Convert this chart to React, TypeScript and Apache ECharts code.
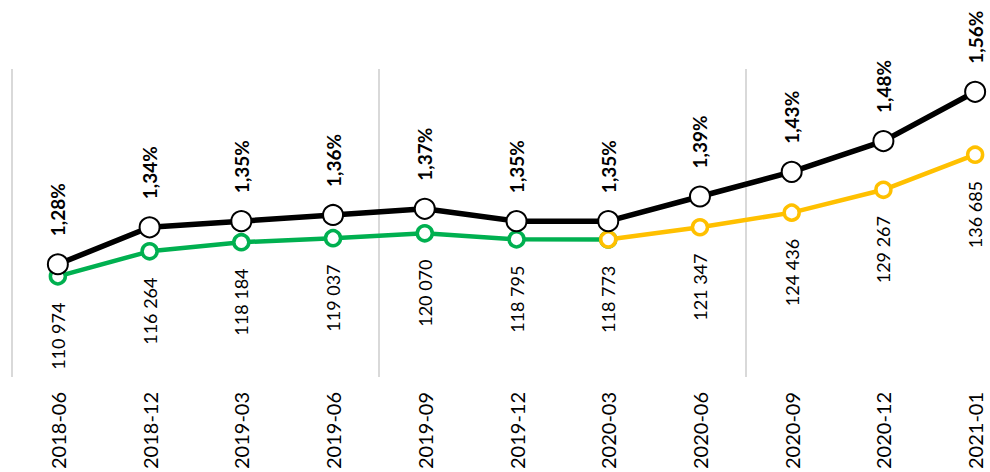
import React, { useEffect, useRef } from "react";
import * as echarts from "echarts";

const categories = [
  "2018-06", "2018-12", "2019-03", "2019-06", "2019-09", "2019-12",
  "2020-03", "2020-06", "2020-09", "2020-12", "2021-01",
];
const shareValues = [1.28, 1.34, 1.35, 1.36, 1.37, 1.35, 1.35, 1.39, 1.43, 1.48, 1.56];
const countValues = [110974, 116264, 118184, 119037, 120070, 118795, 118773, 121347, 124436, 129267, 136685];
const actualCount = 7; // first 7 points green, rest yellow (forecast)

const FONT = "Lato, 'Noto Sans', sans-serif";

const fmtPct = (v: number) => v.toFixed(2).replace(".", ",") + "%";
const fmtNum = (v: number) => String(Math.round(v)).replace(/\B(?=(\d{3})+(?!\d))/g, " ");

export default function App() {
  const ref = useRef<HTMLDivElement>(null);
  useEffect(() => {
    if (!ref.current) return;
    const chart = echarts.init(ref.current, null, { renderer: "svg" });
    const greenData = countValues.map((v, i) => (i < actualCount ? v : "-"));
    const yellowData = countValues.map((v, i) => (i >= actualCount - 1 ? v : "-"));
    const valueLabel = (skipIdx: number) => ({
      show: true,
      position: "bottom",
      distance: 17,
      rotate: 90,
      align: "right",
      verticalAlign: "middle",
      color: "#000",
      fontFamily: FONT,
      fontSize: 18,
      formatter: (p: any) => (p.dataIndex === skipIdx ? "" : fmtNum(p.value)),
    });
    chart.setOption({
      animation: false,
      backgroundColor: "#fff",
      grid: { left: 12, right: 0, top: 69, bottom: 94, containLabel: false },
      xAxis: [
        {
          type: "category",
          data: categories,
          boundaryGap: true,
          axisLine: { show: false },
          axisTick: { show: false },
          axisLabel: {
            rotate: 90,
            margin: 15,
            color: "#000",
            fontFamily: FONT,
            fontSize: 20,
            interval: 0,
          },
          splitLine: { show: false },
        },
        {
          type: "value",
          position: "bottom",
          min: -0.5,
          max: 10.5,
          interval: 4,
          axisLine: { show: false },
          axisTick: { show: false },
          axisLabel: { show: false },
          splitLine: { show: true, lineStyle: { color: "#d9d9d9", width: 2 } },
        },
      ],
      yAxis: [
        { type: "value", show: false, min: 1.097, max: 1.597, splitLine: { show: false } },
        { type: "value", show: false, min: 89700, max: 154800, splitLine: { show: false } },
      ],
      series: [
        {
          type: "line",
          yAxisIndex: 1,
          data: greenData,
          symbol: "circle",
          symbolSize: 15,
          lineStyle: { color: "#00b050", width: 4.5 },
          itemStyle: { color: "#fff", borderColor: "#00b050", borderWidth: 3.5 },
          label: valueLabel(actualCount - 1),
          z: 2,
        },
        {
          type: "line",
          yAxisIndex: 1,
          data: yellowData,
          symbol: "circle",
          symbolSize: 15,
          lineStyle: { color: "#ffc000", width: 4.5 },
          itemStyle: { color: "#fff", borderColor: "#ffc000", borderWidth: 3.5 },
          label: valueLabel(-1),
          z: 3,
        },
        {
          type: "line",
          yAxisIndex: 0,
          data: shareValues,
          symbol: "circle",
          symbolSize: 20,
          lineStyle: { color: "#000", width: 5.5 },
          itemStyle: { color: "#fff", borderColor: "#000", borderWidth: 2 },
          label: {
            show: true,
            position: "top",
            distance: 17,
            rotate: 90,
            align: "left",
            verticalAlign: "middle",
            color: "#000",
            fontFamily: FONT,
            fontWeight: "bold",
            fontSize: 19,
            formatter: (p: any) => fmtPct(p.value),
          },
          z: 4,
        },
      ],
    });
    return () => chart.dispose();
  }, []);
  return (
    <div
      style={{ position: "absolute", left: 0, top: 0, width: 990, height: 472, overflow: "hidden", background: "#fff" }}
    >
      <div ref={ref} style={{ width: 1021, height: 472 }} />
    </div>
  );
}
